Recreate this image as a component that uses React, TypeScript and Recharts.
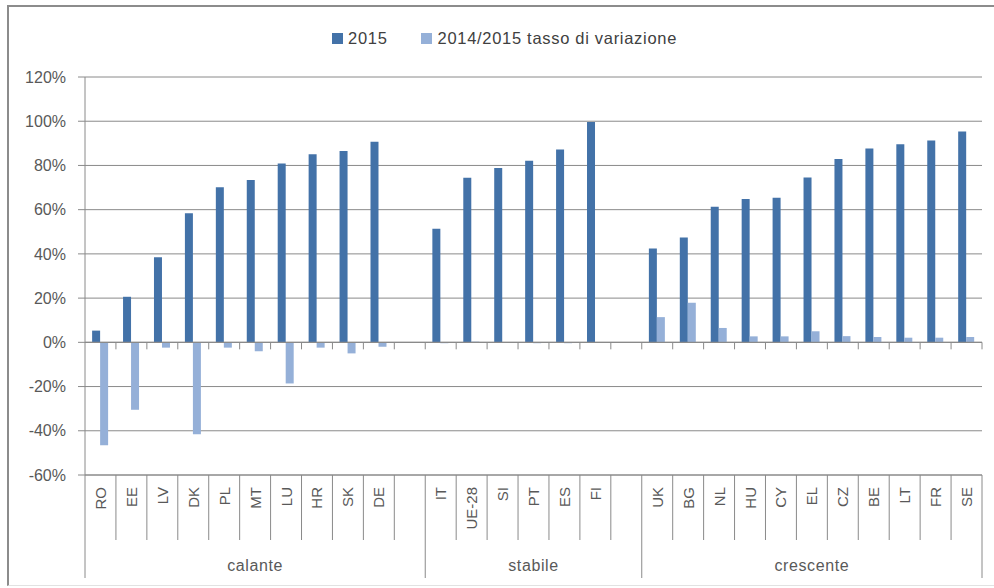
import React from 'react';
import { BarChart, Bar, XAxis, YAxis, CartesianGrid, ReferenceLine, Legend } from 'recharts';

const categories = ['RO','EE','LV','DK','PL','MT','LU','HR','SK','DE','','IT','UE-28','SI','PT','ES','FI','','UK','BG','NL','HU','CY','EL','CZ','BE','LT','FR','SE'];
const values2015 = [5.3,20.6,38.5,58.4,70.1,73.4,80.9,85.1,86.5,90.7,null,51.4,74.4,78.9,82.1,87.2,99.7,null,42.4,47.4,61.3,64.8,65.4,74.6,82.9,87.7,89.6,91.3,95.4];
const variazione = [-46.5,-30.5,-2.4,-41.6,-2.4,-4,-18.6,-2.4,-5,-2,null,-0.4,0.3,-0.2,-0.4,-0.4,0,null,11.4,17.9,6.5,2.7,2.7,5,2.8,2.4,2.1,2.1,2.4];
const groupNames = ['calante','stabile','crescente'];
const groupSizes = [11, 7, 11];
const yTicks = [-60,-40,-20,0,20,40,60,80,100,120];
const seriesNames = ['2015', '2014/2015 tasso di variazione'];

const DARK = '#4372A8';
const LIGHT = '#95B0D8';
const GRID = '#8a8a8a';
const TEXT = '#595959';
const FONT = '"Liberation Sans", Arial, sans-serif';

const CHART_W = 994;
const CHART_H = 588;
const MARGIN = { top: 77, right: 12, bottom: 8, left: 0 };
const YAXIS_W = 85;
const XAXIS_H = 105;
const PLOT_W = CHART_W - MARGIN.left - MARGIN.right - YAXIS_W;

const data = categories.map((c, i) => ({ cat: c, v2015: values2015[i], vVar: variazione[i] }));

const groupStarts: number[] = [];
const groupCenters: number[] = [];
{
  let s = 0;
  groupSizes.forEach((g) => {
    groupStarts.push(s);
    groupCenters.push(s + Math.floor(g / 2));
    s += g;
  });
}

const CategoryTick = (props: any) => {
  const { x, y, index } = props;
  const n = categories.length;
  const band = PLOT_W / n;
  const left = x - band / 2;
  const right = x + band / 2;
  const isGroupStart = groupStarts.includes(index);
  const gi = groupCenters.indexOf(index);
  const label = categories[index];
  return (
    <g>
      <line x1={left} x2={left} y1={y} y2={y + (isGroupStart ? 103 : 65)} stroke={GRID} strokeWidth={1} />
      {index === n - 1 && (
        <line x1={right} x2={right} y1={y} y2={y + 103} stroke={GRID} strokeWidth={1} />
      )}
      {label && (
        <text
          x={x}
          y={y + 12}
          transform={`rotate(-90, ${x}, ${y + 12})`}
          textAnchor="end"
          dominantBaseline="central"
          fontSize={15}
          fontFamily={FONT}
          fill={TEXT}
        >
          {label}
        </text>
      )}
      {gi >= 0 && (
        <text
          x={groupSizes[gi] % 2 === 1 ? x : left}
          y={y + 90}
          textAnchor="middle"
          dominantBaseline="central"
          fontSize={16}
          letterSpacing={0.6}
          fontFamily={FONT}
          fill={TEXT}
        >
          {groupNames[gi]}
        </text>
      )}
    </g>
  );
};

const ZeroLine = (p: any) => {
  const { x1, x2, y1 } = p;
  const n = categories.length;
  const band = (x2 - x1) / n;
  const ticks = [];
  for (let i = 1; i <= n; i++) {
    const tx = x1 + band * i;
    ticks.push(<line key={i} x1={tx} x2={tx} y1={y1} y2={y1 + 7} stroke={GRID} strokeWidth={1} />);
  }
  return (
    <g>
      <line x1={x1} x2={x2} y1={y1} y2={y1} stroke={GRID} strokeWidth={1.2} />
      {ticks}
    </g>
  );
};

const LegendContent = () => (
  <div
    style={{
      display: 'flex',
      alignItems: 'center',
      paddingLeft: 332,
      fontFamily: FONT,
      fontSize: 16.5,
      letterSpacing: 0.7,
      color: '#404040',
      height: 14,
    }}
  >
    <span style={{ width: 11, height: 11, background: DARK, display: 'inline-block', marginRight: 5 }} />
    <span style={{ marginRight: 33 }}>{seriesNames[0]}</span>
    <span style={{ width: 11, height: 11, background: LIGHT, display: 'inline-block', marginRight: 6 }} />
    <span>{seriesNames[1]}</span>
  </div>
);

export default function App() {
  return (
    <div style={{ position: 'absolute', left: 0, top: 0, width: CHART_W, height: CHART_H, background: '#fff' }}>
      <div
        style={{
          position: 'absolute',
          left: 7,
          top: 5,
          width: 990,
          height: 581,
          borderLeft: '2px solid #8c8c8c',
          borderTop: '2px solid #8c8c8c',
          borderBottom: '1px solid #e2e2e2',
          boxSizing: 'border-box',
        }}
      />
      <BarChart
        width={CHART_W}
        height={CHART_H}
        data={data}
        margin={MARGIN}
        barGap={0}
        barCategoryGap="23%"
      >
        <CartesianGrid vertical={false} stroke={GRID} strokeWidth={1} />
        <XAxis
          dataKey="cat"
          type="category"
          height={XAXIS_H}
          interval={0}
          tickLine={false}
          tickSize={0}
          tickMargin={0}
          axisLine={{ stroke: GRID }}
          tick={<CategoryTick />}
        />
        <YAxis
          width={YAXIS_W}
          domain={[-60, 120]}
          ticks={yTicks}
          interval={0}
          allowDataOverflow
          tickFormatter={(v: number) => `${v}%`}
          tickSize={7}
          tickMargin={12}
          tickLine={{ stroke: GRID }}
          axisLine={{ stroke: GRID }}
          tick={{ fontSize: 16, fontFamily: FONT, fill: TEXT }}
        />
        <Legend
          verticalAlign="middle"
          align="center"
          layout="horizontal"
          wrapperStyle={{ top: 31, left: 0, width: CHART_W }}
          content={<LegendContent />}
        />
        <Bar dataKey="v2015" name={seriesNames[0]} fill={DARK} isAnimationActive={false} />
        <Bar dataKey="vVar" name={seriesNames[1]} fill={LIGHT} isAnimationActive={false} />
        <ReferenceLine y={0} shape={<ZeroLine />} />
      </BarChart>
    </div>
  );
}
